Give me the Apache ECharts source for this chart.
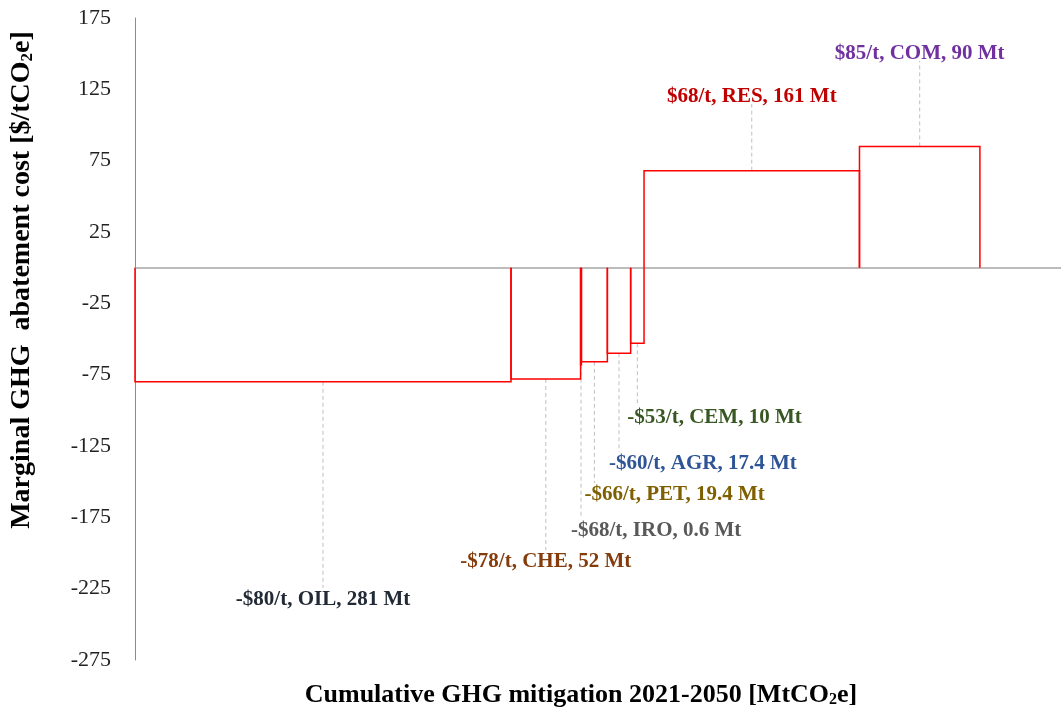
<!DOCTYPE html>
<html>
<head>
<meta charset="utf-8">
<script src="https://cdn.jsdelivr.net/npm/echarts@6/dist/echarts.min.js"></script>
<style>
  html, body { margin: 0; padding: 0; background: #ffffff; }
  #chart { width: 1061px; height: 717px; }
</style>
</head>
<body>
<div id="chart"></div>
<script>
// Sector abatement options, ordered by marginal cost
const sectors = ['OIL', 'CHE', 'IRO', 'PET', 'AGR', 'CEM', 'RES', 'COM'];
const mitigationMt = [281, 52, 0.6, 19.4, 17.4, 10, 161, 90];
const costPerTonne = [-80, -78, -68, -66, -60, -53, 68, 85];

// Axis ranges
const yMin = -275, yMax = 175, yStep = 50;
const xMin = 0, xMax = 692;

// Label styling: colours, height of the label (in $/t) and alignment against its leader line
const labelColors = ['#222a35', '#843c0c', '#595959', '#7f6000', '#2f5597', '#385723', '#c00000', '#7030a0'];
const labelLevel = [-232.9, -206.3, -184, -159.4, -137.6, -105.4, 119.6, 149.8];
const labelAlign = ['center', 'center', 'left', 'left', 'left', 'left', 'center', 'center'];

const SERIF = '"Liberation Serif", "Times New Roman", serif';

// Build step-curve segments from cumulative mitigation
let cum = 0;
const segments = sectors.map((s, i) => {
  const start = cum;
  cum += mitigationMt[i];
  return [start, cum, costPerTonne[i], i];
});

function fmtLabel(i) {
  const c = costPerTonne[i];
  return (c < 0 ? '-' : '') + '$' + Math.abs(c) + '/t, ' + sectors[i] + ', ' + mitigationMt[i] + ' Mt';
}

const chart = echarts.init(document.getElementById('chart'), null, { renderer: 'canvas' });

chart.setOption({
  animation: false,
  backgroundColor: '#ffffff',
  grid: { left: 135, top: 18, right: 0, height: 642, containLabel: false },
  xAxis: {
    type: 'value', min: xMin, max: xMax,
    axisLine: { show: true, onZero: true, lineStyle: { color: '#a6a6a6', width: 1.5 } },
    axisTick: { show: false }, axisLabel: { show: false }, splitLine: { show: false }
  },
  yAxis: {
    type: 'value', min: yMin, max: yMax, interval: yStep,
    axisLine: { show: true, onZero: false, lineStyle: { color: '#8c8c8c', width: 1 } },
    axisTick: { show: false },
    splitLine: { show: false },
    axisLabel: { color: '#222222', fontFamily: SERIF, fontSize: 22, margin: 24 }
  },
  graphic: [
    {
      type: 'text', x: 581, y: 695,
      style: {
        text: '{a|Cumulative GHG mitigation 2021-2050 [MtCO}{s|2}{a|e]}',
        align: 'center', verticalAlign: 'middle',
        rich: {
          a: { fontFamily: SERIF, fontWeight: 'bold', fontSize: 26, fill: '#000000' },
          s: { fontFamily: SERIF, fontWeight: 'bold', fontSize: 16, fill: '#000000', padding: [10, 0, 0, 0] }
        }
      }
    },
    {
      type: 'text', x: 22, y: 280, rotation: Math.PI / 2,
      style: {
        text: '{a|Marginal GHG  abatement cost [$/tCO}{s|2}{a|e]}',
        align: 'center', verticalAlign: 'middle',
        rich: {
          a: { fontFamily: SERIF, fontWeight: 'bold', fontSize: 28, fill: '#000000' },
          s: { fontFamily: SERIF, fontWeight: 'bold', fontSize: 17, fill: '#000000', padding: [11, 0, 0, 0] }
        }
      }
    }
  ],
  series: [
    {
      // Dashed leader lines and value labels
      type: 'custom',
      coordinateSystem: 'cartesian2d',
      z: 1,
      data: segments,
      renderItem: function (params, api) {
        const start = api.value(0), end = api.value(1), c = api.value(2), i = api.value(3);
        const mid = (start + end) / 2;
        const pBar = api.coord([mid, c]);
        const pLab = api.coord([mid, labelLevel[i]]);
        const neg = c < 0;
        const leaderEnd = neg ? pLab[1] - 12 : pLab[1] + 7;
        const align = labelAlign[i];
        const tx = align === 'left' ? pBar[0] - 10 : pBar[0];
        return {
          type: 'group',
          children: [
            {
              type: 'line',
              shape: { x1: pBar[0], y1: pBar[1], x2: pBar[0], y2: leaderEnd },
              style: { stroke: '#bfbfbf', lineWidth: 1, lineDash: [4, 3] }
            },
            {
              type: 'text',
              x: tx, y: pLab[1],
              style: {
                text: fmtLabel(i),
                fill: labelColors[i],
                font: 'bold 21px ' + SERIF,
                align: align, verticalAlign: 'middle'
              }
            }
          ]
        };
      }
    },
    {
      // Step outlines of each abatement option
      type: 'custom',
      coordinateSystem: 'cartesian2d',
      z: 2,
      data: segments,
      renderItem: function (params, api) {
        const start = api.value(0), end = api.value(1), c = api.value(2);
        const pts = [
          api.coord([start, 0]),
          api.coord([start, c]),
          api.coord([end, c]),
          api.coord([end, 0])
        ];
        return {
          type: 'polyline',
          shape: { points: pts },
          style: { stroke: '#ff0000', lineWidth: 1.5, fill: null }
        };
      }
    }
  ]
});
</script>
</body>
</html>
